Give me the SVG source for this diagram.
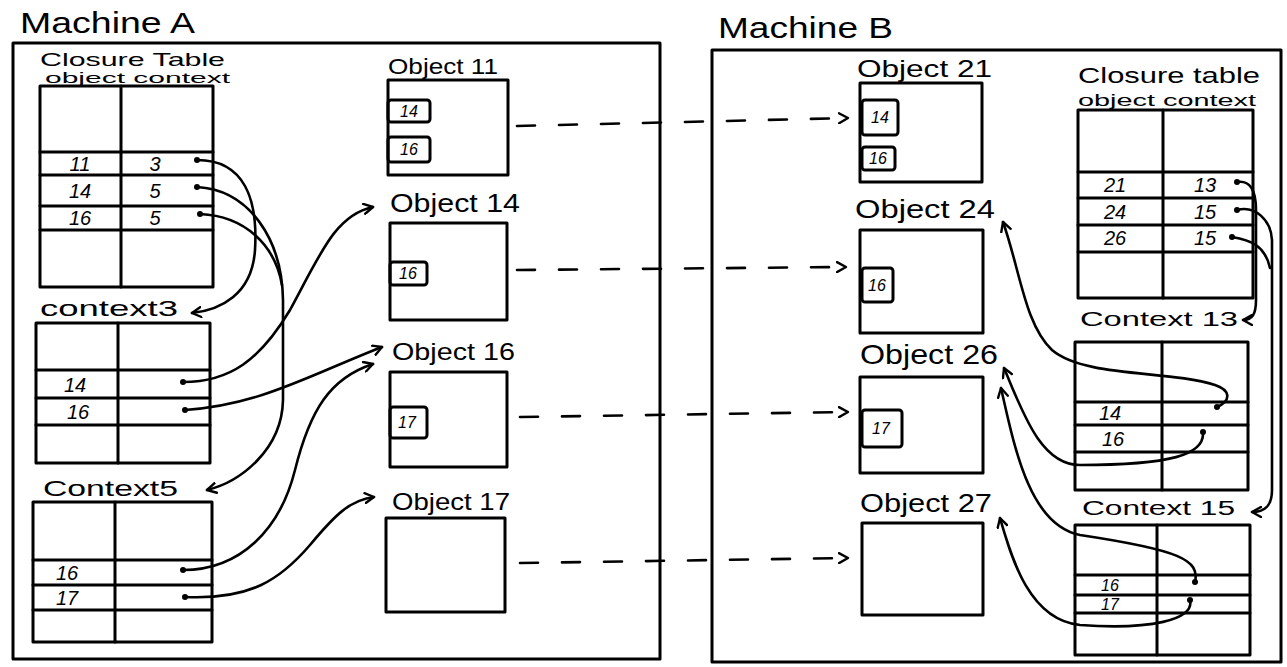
<svg xmlns="http://www.w3.org/2000/svg" width="1287" height="667" viewBox="0 0 1287 667">
<defs>
<style>
.ln{fill:none;stroke:#000;stroke-width:3;stroke-linecap:round;stroke-linejoin:round}
.cn{fill:none;stroke:#000;stroke-width:2.6;stroke-linecap:round}
.ds{fill:none;stroke:#000;stroke-width:2.6;stroke-dasharray:18 24;stroke-linecap:round}
.t{font-family:"Liberation Sans",Arial,sans-serif;fill:#000}
.v{font-family:"Liberation Sans",Arial,sans-serif;fill:#000;font-size:20px;text-anchor:middle;font-style:italic}
.s{font-size:16px}
.dot{fill:#000}
</style>
<marker id="ah" viewBox="0 0 12 12" refX="10" refY="6" markerWidth="12" markerHeight="12" markerUnits="userSpaceOnUse" orient="auto">
<path d="M1,1 L10,6 L1,11" fill="none" stroke="#000" stroke-width="2.4" stroke-linecap="round" stroke-linejoin="round"/>
</marker>
</defs>
<rect width="1287" height="667" fill="#fff"/>

<g id="machine-a">
<text class="t" x="20" y="33" font-size="30" textLength="175" lengthAdjust="spacingAndGlyphs">Machine A</text>
<rect class="ln" x="13" y="43" width="647" height="616"/>
</g>
<g id="machine-b">
<text class="t" x="718" y="38" font-size="30" textLength="175" lengthAdjust="spacingAndGlyphs">Machine B</text>
<rect class="ln" x="712" y="50" width="569" height="612"/>
</g>

<g id="closure-table-a">
<text class="t" x="40" y="66" font-size="19" textLength="185" lengthAdjust="spacingAndGlyphs">Closure Table</text>
<text class="t" x="45" y="83" font-size="15" textLength="185" lengthAdjust="spacingAndGlyphs">object context</text>
<rect class="ln" x="40" y="86" width="173" height="201"/>
<path class="ln" d="M121,86 V287 M40,152 H213 M40,175 H213 M40,206 H213 M40,230 H213"/>
<text class="v" x="80" y="171">11</text><text class="v" x="155" y="171">3</text>
<text class="v" x="80" y="198">14</text><text class="v" x="155" y="198">5</text>
<text class="v" x="80" y="225">16</text><text class="v" x="155" y="225">5</text>
</g>

<g id="context3">
<text class="t" x="40" y="316" font-size="22" textLength="138" lengthAdjust="spacingAndGlyphs">context3</text>
<rect class="ln" x="36" y="323" width="174" height="140"/>
<path class="ln" d="M118,323 V463 M36,370 H210 M36,398 H210 M36,425 H210"/>
<text class="v" x="75" y="392">14</text>
<text class="v" x="78" y="419">16</text>
</g>

<g id="context5">
<text class="t" x="43" y="496" font-size="22" textLength="135" lengthAdjust="spacingAndGlyphs">Context5</text>
<rect class="ln" x="33" y="502" width="179" height="140"/>
<path class="ln" d="M115,502 V642 M33,560 H212 M33,585 H212 M33,610 H212"/>
<text class="v" x="67" y="580">16</text>
<text class="v" x="67" y="605">17</text>
</g>

<g id="object11">
<text class="t" x="388" y="74" font-size="22" textLength="110" lengthAdjust="spacingAndGlyphs">Object 11</text>
<rect class="ln" x="388" y="80" width="120" height="95"/>
<rect class="ln" x="388" y="100" width="42" height="22" rx="3"/>
<text class="v s" x="409" y="117">14</text>
<rect class="ln" x="388" y="137" width="42" height="25" rx="3"/>
<text class="v s" x="409" y="155">16</text>
</g>
<g id="object14">
<text class="t" x="390" y="212" font-size="26" textLength="130" lengthAdjust="spacingAndGlyphs">Object 14</text>
<rect class="ln" x="390" y="223" width="117" height="97"/>
<rect class="ln" x="390" y="262" width="37" height="23" rx="3"/>
<text class="v s" x="408" y="279">16</text>
</g>
<g id="object16">
<text class="t" x="392" y="360" font-size="24" textLength="123" lengthAdjust="spacingAndGlyphs">Object 16</text>
<rect class="ln" x="390" y="372" width="117" height="95"/>
<rect class="ln" x="390" y="407" width="37" height="31" rx="3"/>
<text class="v s" x="407" y="428">17</text>
</g>
<g id="object17">
<text class="t" x="392" y="510" font-size="24" textLength="118" lengthAdjust="spacingAndGlyphs">Object 17</text>
<rect class="ln" x="386" y="518" width="119" height="94"/>
</g>

<g id="object21">
<text class="t" x="857" y="77" font-size="24" textLength="135" lengthAdjust="spacingAndGlyphs">Object 21</text>
<rect class="ln" x="860" y="83" width="122" height="99"/>
<rect class="ln" x="862" y="100" width="36" height="35" rx="3"/>
<text class="v s" x="880" y="123">14</text>
<rect class="ln" x="862" y="147" width="33" height="23" rx="3"/>
<text class="v s" x="878" y="164">16</text>
</g>
<g id="object24">
<text class="t" x="855" y="218" font-size="26" textLength="140" lengthAdjust="spacingAndGlyphs">Object 24</text>
<rect class="ln" x="860" y="230" width="123" height="103"/>
<rect class="ln" x="862" y="268" width="31" height="34" rx="3"/>
<text class="v s" x="877" y="291">16</text>
</g>
<g id="object26">
<text class="t" x="860" y="364" font-size="28" textLength="138" lengthAdjust="spacingAndGlyphs">Object 26</text>
<rect class="ln" x="860" y="377" width="123" height="96"/>
<rect class="ln" x="862" y="410" width="40" height="37" rx="3"/>
<text class="v s" x="881" y="434">17</text>
</g>
<g id="object27">
<text class="t" x="860" y="512" font-size="26" textLength="132" lengthAdjust="spacingAndGlyphs">Object 27</text>
<rect class="ln" x="862" y="523" width="121" height="92"/>
</g>

<g id="closure-table-b">
<text class="t" x="1078" y="83" font-size="22" textLength="182" lengthAdjust="spacingAndGlyphs">Closure table</text>
<text class="t" x="1078" y="106" font-size="17" textLength="178" lengthAdjust="spacingAndGlyphs">object  context</text>
<rect class="ln" x="1078" y="110" width="175" height="188"/>
<path class="ln" d="M1163,110 V298 M1078,172 H1253 M1078,198 H1253 M1078,225 H1253 M1078,252 H1253"/>
<text class="v" x="1115" y="192">21</text><text class="v" x="1205" y="192">13</text>
<text class="v" x="1115" y="219">24</text><text class="v" x="1205" y="219">15</text>
<text class="v" x="1115" y="245">26</text><text class="v" x="1205" y="245">15</text>
</g>

<g id="context13">
<text class="t" x="1080" y="326" font-size="20" textLength="158" lengthAdjust="spacingAndGlyphs">Context 13</text>
<rect class="ln" x="1075" y="342" width="173" height="148"/>
<path class="ln" d="M1162,342 V490 M1075,402 H1248 M1075,425 H1248 M1075,452 H1248"/>
<text class="v" x="1110" y="420">14</text>
<text class="v" x="1113" y="446">16</text>
</g>

<g id="context15">
<text class="t" x="1082" y="515" font-size="20" textLength="153" lengthAdjust="spacingAndGlyphs">Context 15</text>
<rect class="ln" x="1075" y="525" width="175" height="130"/>
<path class="ln" d="M1157,525 V655 M1075,575 H1250 M1075,595 H1250 M1075,613 H1250"/>
<text class="v s" x="1110" y="591">16</text>
<text class="v s" x="1110" y="610">17</text>
</g>

<g id="connectors">
<circle class="dot" cx="197" cy="160" r="3"/>
<circle class="dot" cx="197" cy="187" r="3"/>
<circle class="dot" cx="200" cy="214" r="3"/>
<circle class="dot" cx="183" cy="382" r="3"/>
<circle class="dot" cx="185" cy="410" r="3"/>
<circle class="dot" cx="183" cy="570" r="3"/>
<circle class="dot" cx="185" cy="597" r="3"/>
<path class="cn" marker-end="url(#ah)" d="M197,160 C245,160 258,200 255,250 C252,295 220,310 192,313"/>
<path class="cn" marker-end="url(#ah)" d="M197,187 C250,190 282,240 283,300 L283,400 C282,450 240,482 207,490"/>
<path class="cn" d="M200,214 C245,216 275,245 282,285"/>
<path class="cn" marker-end="url(#ah)" d="M183,382 C230,382 260,360 290,310 C320,255 335,215 373,207"/>
<path class="cn" marker-end="url(#ah)" d="M185,410 C260,405 310,375 382,347"/>
<path class="cn" marker-end="url(#ah)" d="M183,570 C240,570 280,530 295,470 C310,410 330,378 373,364"/>
<path class="cn" marker-end="url(#ah)" d="M185,597 C250,600 280,580 310,545 C335,515 350,500 374,497"/>

<path class="ds" marker-end="url(#ah)" d="M517,126 L848,118"/>
<path class="ds" marker-end="url(#ah)" d="M517,270 L846,267"/>
<path class="ds" marker-end="url(#ah)" d="M520,417 L848,412"/>
<path class="ds" marker-end="url(#ah)" d="M520,563 L848,558"/>

<circle class="dot" cx="1237" cy="182" r="3"/>
<circle class="dot" cx="1237" cy="210" r="3"/>
<circle class="dot" cx="1232" cy="237" r="3"/>
<circle class="dot" cx="1217" cy="407" r="3"/>
<circle class="dot" cx="1203" cy="432" r="3"/>
<circle class="dot" cx="1195" cy="582" r="3"/>
<circle class="dot" cx="1190" cy="600" r="3"/>
<path class="cn" marker-end="url(#ah)" d="M1237,182 C1250,180 1256,190 1256,210 L1256,300 C1256,315 1252,320 1243,320"/>
<path class="cn" marker-end="url(#ah)" d="M1237,210 C1255,205 1271,220 1272,240 L1272,490 C1272,505 1266,512 1252,512"/>
<path class="cn" d="M1232,237 C1250,240 1265,245 1270,268"/>
<path class="cn" marker-end="url(#ah)" d="M1217,407 C1232,400 1230,390 1215,385 C1170,370 1085,378 1052,350 C1025,325 1020,270 1003,222"/>
<path class="cn" marker-end="url(#ah)" d="M1203,432 C1205,455 1170,465 1080,465 C1040,465 1022,410 1004,368"/>
<path class="cn" marker-end="url(#ah)" d="M1195,582 C1200,560 1180,550 1080,535 C1030,525 1015,450 1001,388"/>
<path class="cn" marker-end="url(#ah)" d="M1190,600 C1195,620 1150,630 1080,625 C1030,620 1012,560 1000,518"/>
</g>
</svg>
